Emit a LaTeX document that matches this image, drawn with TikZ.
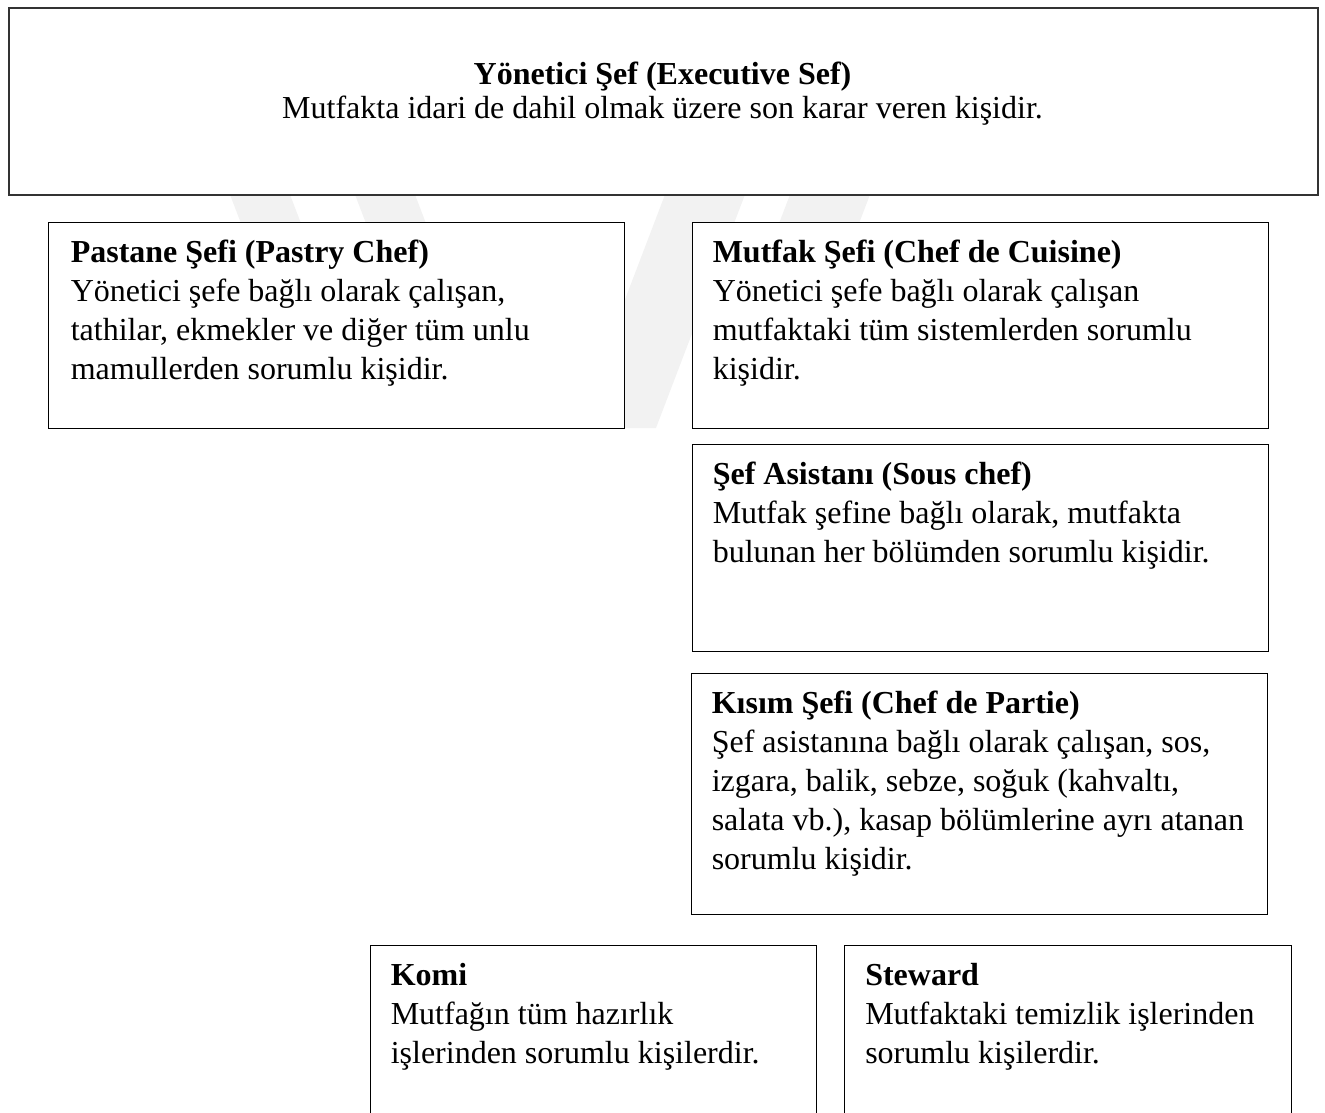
\documentclass[tikz,border=0pt]{standalone}
\usepackage{fontspec}
\setmainfont{Liberation Serif}
\begin{document}
\begin{tikzpicture}[x=0.75pt,y=-0.75pt,
  box/.style={draw=black, line width=1pt, fill=white, rectangle, inner sep=0pt, anchor=north west},
  topbox/.style={box, draw=black!80, line width=1.4pt},
  txt/.style={anchor=north west, inner sep=0pt, align=left, font=\fontsize{24pt}{29.25pt}\selectfont},
  wm/.style={fill=black!5, draw=none}]
\useasboundingbox (0,0) rectangle (1325,1113);
\clip (0,0) rectangle (1325,1113);
% faint watermark stripes
\fill[wm] (213,150) -- (273,150) -- (379,428) -- (319,428) -- cycle;
\fill[wm] (338,150) -- (398,150) -- (504,428) -- (444,428) -- cycle;
\fill[wm] (682,150) -- (762,150) -- (656,428) -- (576,428) -- cycle;
\fill[wm] (807,150) -- (887,150) -- (781,428) -- (701,428) -- cycle;
% boxes
\node[topbox, minimum width=981.75pt, minimum height=140.25pt] (exec) at (8,7) {};
\node[box, minimum width=432.375pt, minimum height=154.125pt] (pastry) at (47.5,222) {};
\node[box, minimum width=432pt, minimum height=154.125pt] (cuisine) at (691.5,222) {};
\node[box, minimum width=432pt, minimum height=154.875pt] (sous) at (691.5,444) {};
\node[box, minimum width=432pt, minimum height=180.75pt] (partie) at (690.5,672.5) {};
\node[box, minimum width=334.875pt, minimum height=150pt] (komi) at (369.5,945) {};
\node[box, minimum width=335.25pt, minimum height=150pt] (steward) at (844,945) {};
% texts
\node[txt, align=center, anchor=north, font=\fontsize{24pt}{25.5pt}\selectfont] (execT) at (662.5,60.5)
  {\rule{0pt}{18pt}\textbf{Yönetici Şef (Executive Sef)}\\Mutfakta idari de dahil olmak üzere son karar veren kişidir.};
\node[txt] (pastryT) at (70.5,238.5)
  {\rule{0pt}{18pt}\textbf{Pastane Şefi (Pastry Chef)}\\Yönetici şefe bağlı olarak çalışan,\\tathilar, ekmekler ve diğer tüm unlu\\mamullerden sorumlu kişidir.};
\node[txt] (cuisineT) at (712.5,238.5)
  {\rule{0pt}{18pt}\textbf{Mutfak Şefi (Chef de Cuisine)}\\Yönetici şefe bağlı olarak çalışan\\mutfaktaki tüm sistemlerden sorumlu\\kişidir.};
\node[txt] (sousT) at (712.5,460.5)
  {\rule{0pt}{18pt}\textbf{Şef Asistanı (Sous chef)}\\Mutfak şefine bağlı olarak, mutfakta\\bulunan her bölümden sorumlu kişidir.};
\node[txt] (partieT) at (711.5,689)
  {\rule{0pt}{18pt}\textbf{Kısım Şefi (Chef de Partie)}\\Şef asistanına bağlı olarak çalışan, sos,\\izgara, balik, sebze, soğuk (kahvaltı,\\salata vb.), kasap bölümlerine ayrı atanan\\sorumlu kişidir.};
\node[txt] (komiT) at (390.5,961.5)
  {\rule{0pt}{18pt}\textbf{Komi}\\Mutfağın tüm hazırlık\\işlerinden sorumlu kişilerdir.};
\node[txt] (stewardT) at (865,961.5)
  {\rule{0pt}{18pt}\textbf{Steward}\\Mutfaktaki temizlik işlerinden\\sorumlu kişilerdir.};
\end{tikzpicture}
\end{document}
